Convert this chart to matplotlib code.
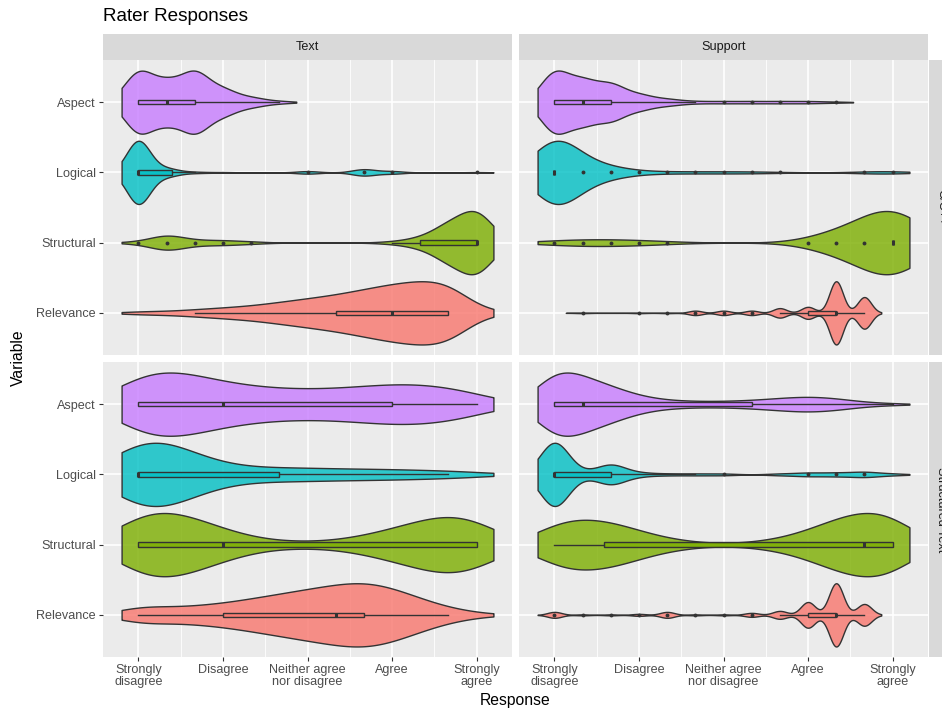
import numpy as np
import matplotlib.pyplot as plt
from matplotlib.colors import to_rgba

plt.rcParams['font.family'] = ['Liberation Sans', 'DejaVu Sans']

# response scale (mean of three ratings, so steps of one third)
levels = np.array([1, 4/3, 5/3, 2, 7/3, 8/3, 3, 10/3, 11/3, 4, 13/3, 14/3, 5])
response_labels = ["Strongly\ndisagree", "Disagree", "Neither agree\nnor disagree",
                   "Agree", "Strongly\nagree"]
variables = ["Aspect", "Logical", "Structural", "Relevance"]
var_colors = ["#C77CFF", "#00BFC4", "#7CAE00", "#F8766D"]
sources = ["Text", "Support"]
languages = ["C/C++", "Structured Text"]

# number of responses at each level, one row per variable
counts_text_cpp = [
    [28, 17, 27, 11, 4, 1, 0, 0, 0, 0, 0, 0, 0],
    [100, 12, 2, 1, 0, 0, 4, 0, 10, 4, 0, 0, 1],
    [1, 7, 2, 2, 1, 0, 0, 0, 0, 1, 4, 16, 30],
    [1, 1, 2, 3, 4, 6, 8, 10, 13, 16, 18, 18, 3],
]
counts_support_cpp = [
    [60, 40, 34, 14, 6, 2, 2, 2, 2, 2, 1, 0, 0],
    [100, 25, 12, 3, 2, 2, 2, 2, 1, 0, 0, 2, 3],
    [4, 5, 5, 4, 2, 0, 0, 0, 0, 1, 25, 15, 100],
    [0, 1, 0, 1, 1, 7, 7, 7, 15, 19, 100, 50, 0],
]
counts_text_st = [
    [14, 12, 10, 7, 6, 5, 5, 5, 6, 7, 7, 6, 4],
    [40, 25, 14, 6, 5, 5, 5, 4, 4, 4, 3, 3, 2],
    [14, 12, 9, 5, 2, 1, 1, 1, 3, 5, 8, 11, 11],
    [5, 3, 4, 5, 7, 9, 11, 13, 15, 12, 7, 3, 1],
]
counts_support_st = [
    [40, 28, 18, 8, 4, 3, 3, 4, 6, 8, 6, 2, 1],
    [40, 2, 12, 2, 1, 1, 1, 0, 1, 2, 2, 3, 1],
    [10, 10, 9, 5, 2, 1, 0, 1, 2, 5, 10, 13, 14],
    [6, 1, 1, 2, 6, 1, 1, 4, 8, 26, 64, 22, 0],
]

# kernel bandwidths
bw_text_cpp = [0.17, 0.14, 0.2, 0.25]
bw_support_cpp = [0.17, 0.26, 0.37, 0.08]
bw_text_st = [0.4, 0.4, 0.38, 0.3]
bw_support_st = [0.25, 0.17, 0.33, 0.085]

# boxplot stats: lower whisker, q1, median, q3, upper whisker
box_text_cpp = [(1, 1, 4/3, 5/3, 8/3), (1, 1, 1, 1.4, 5/3),
                (4, 13/3, 5, 5, 5), (5/3, 10/3, 4, 14/3, 14/3)]
box_support_cpp = [(1, 1, 4/3, 5/3, 8/3), (1, 1, 1, 1, 1),
                   (5, 5, 5, 5, 5), (11/3, 4, 13/3, 13/3, 14/3)]
box_text_st = [(1, 1, 2, 4, 5), (1, 1, 1, 8/3, 14/3),
               (1, 1, 2, 5, 5), (1, 2, 10/3, 11/3, 14/3)]
box_support_st = [(1, 1, 4/3, 10/3, 5), (1, 1, 1, 5/3, 8/3),
                  (1, 1.58, 14/3, 5, 5), (11/3, 4, 13/3, 13/3, 14/3)]

outliers_text_cpp = [[], [3, 11/3, 4, 5], [1, 4/3, 5/3, 2, 7/3], []]
outliers_support_cpp = [[3, 10/3, 11/3, 4, 13/3],
                        [4/3, 5/3, 2, 7/3, 8/3, 3, 10/3, 11/3, 14/3, 5],
                        [1, 4/3, 5/3, 2, 7/3, 4, 13/3, 14/3],
                        [4/3, 2, 7/3, 8/3, 3, 10/3]]
outliers_text_st = [[], [], [], []]
outliers_support_st = [[], [3, 4, 13/3, 14/3], [],
                       [1, 4/3, 5/3, 2, 7/3, 8/3, 3, 10/3]]

panels = {
    (0, 0): (counts_text_cpp, bw_text_cpp, box_text_cpp, outliers_text_cpp),
    (0, 1): (counts_support_cpp, bw_support_cpp, box_support_cpp, outliers_support_cpp),
    (1, 0): (counts_text_st, bw_text_st, box_text_st, outliers_text_st),
    (1, 1): (counts_support_st, bw_support_st, box_support_st, outliers_support_st),
}

W, H = 942, 715
fig = plt.figure(figsize=(W / 100, H / 100), dpi=100)
fig.patch.set_facecolor('white')


def rect(x0, y0, x1, y1):
    return [x0 / W, 1 - y1 / H, (x1 - x0) / W, (y1 - y0) / H]


col_px = [(103, 512), (519, 928)]
row_px = [(60, 355), (362, 657)]
edge = '#333333'
lw = 1.0


def draw_violin(ax, y, counts, bw, color):
    counts = np.asarray(counts, float)
    present = levels[counts > 0]
    grid = np.linspace(present.min() - 0.2, present.max() + 0.2, 500)
    dens = (counts[:, None] *
            np.exp(-0.5 * ((grid[None, :] - levels[:, None]) / bw) ** 2)).sum(0)
    half = 0.45 * dens / dens.max()
    ax.fill_between(grid, y - half, y + half, facecolor=to_rgba(color, 0.8),
                    edgecolor=edge, linewidth=lw, zorder=2)


def draw_box(ax, y, stats, outs, color):
    lo, q1, med, q3, hi = stats
    h = 0.033
    ax.plot([lo, q1], [y, y], color=edge, lw=lw, zorder=3)
    ax.plot([q3, hi], [y, y], color=edge, lw=lw, zorder=3)
    ax.add_patch(plt.Rectangle((q1, y - h), q3 - q1, 2 * h,
                               facecolor=to_rgba(color, 0.8), edgecolor=edge,
                               lw=lw, zorder=3))
    ax.plot([med, med], [y - h, y + h], color=edge, lw=2.2,
            solid_capstyle='butt', zorder=4)
    if outs:
        ax.plot(outs, [y] * len(outs), 'o', color=edge, ms=2.8, mew=0, zorder=5)


for (r, c), (counts, bws, boxes, outs) in panels.items():
    ax = fig.add_axes(rect(col_px[c][0], row_px[r][0], col_px[c][1], row_px[r][1]))
    ax.set_facecolor('#EBEBEB')
    for s in ax.spines.values():
        s.set_visible(False)
    ax.set_xlim(0.8 - 0.22, 5.2 + 0.22)
    ax.set_ylim(0.4, 4.6)
    ax.set_xticks([1, 2, 3, 4, 5])
    ax.set_xticks([1.5, 2.5, 3.5, 4.5], minor=True)
    ax.set_yticks([4, 3, 2, 1])
    ax.grid(which='major', color='white', lw=1.2)
    ax.grid(which='minor', axis='x', color='white', lw=0.6)
    ax.set_axisbelow(True)
    ax.tick_params(which='minor', length=0)
    ax.tick_params(which='major', length=3.2, width=0.8, color=edge,
                   labelcolor='#4D4D4D', labelsize=9.1, pad=2)
    if r == 1:
        ax.set_xticklabels(response_labels)
        for t in ax.get_xticklabels():
            t.set_linespacing(0.95)
    else:
        ax.tick_params(axis='x', which='major', length=0, labelbottom=False)
    if c == 0:
        ax.set_yticklabels(variables)
    else:
        ax.tick_params(axis='y', which='major', length=0, labelleft=False)

    for i, var in enumerate(variables):
        y = 4 - i
        draw_violin(ax, y, counts[i], bws[i], var_colors[i])
        draw_box(ax, y, boxes[i], outs[i], var_colors[i])

# facet strips
for c, name in enumerate(sources):
    sax = fig.add_axes(rect(col_px[c][0], 34, col_px[c][1], 60))
    sax.set_facecolor('#D9D9D9')
    sax.set_xticks([]); sax.set_yticks([])
    for s in sax.spines.values():
        s.set_visible(False)
    sax.text(0.5, 0.5, name, ha='center', va='center', fontsize=9.1,
             color='#1A1A1A', transform=sax.transAxes)

for r, name in enumerate(languages):
    sax = fig.add_axes(rect(929, row_px[r][0], 953, row_px[r][1]))
    sax.set_facecolor('#D9D9D9')
    sax.set_xticks([]); sax.set_yticks([])
    for s in sax.spines.values():
        s.set_visible(False)
    sax.text(0.5, 0.5, name, ha='center', va='center', fontsize=9.1,
             color='#1A1A1A', rotation=-90, transform=sax.transAxes)

fig.text(103 / W, 1 - 21 / H, "Rater Responses", fontsize=13.6, va='baseline')
fig.text(515 / W, 1 - 701 / H, "Response", fontsize=11.3, ha='center', va='center')
fig.text(18 / W, 1 - 358 / H, "Variable", fontsize=11.3, ha='center', va='center',
         rotation=90)

fig.savefig('out.png', dpi=100)
